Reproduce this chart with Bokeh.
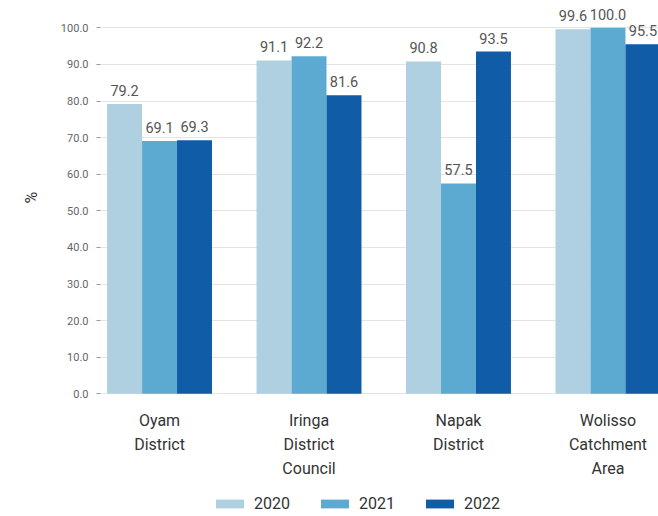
from bokeh.plotting import figure
from bokeh.models import ColumnDataSource, FixedTicker, Legend, LegendItem, NumeralTickFormatter, Range1d, Title
from bokeh.embed import file_html
from bokeh.resources import INLINE
from bokeh.core.properties import value

# Data
categories = ["Oyam\nDistrict", "Iringa\nDistrict\nCouncil", "Napak\nDistrict", "Wolisso\nCatchment\nArea"]
years = ["2020", "2021", "2022"]
values_2020 = [79.2, 91.1, 90.8, 99.6]
values_2021 = [69.1, 92.2, 57.5, 100.0]
values_2022 = [69.3, 81.6, 93.5, 95.5]
y_ticks = [0, 10, 20, 30, 40, 50, 60, 70, 80, 90, 100]

colors = ["#aed0e1", "#5caad2", "#115ca6"]
series = [values_2020, values_2021, values_2022]

# The frame runs to the bottom of the page so that category names and the
# legend can sit under the bars without being clipped.
p = figure(width=658, height=516, output_backend="svg", toolbar_location=None,
           x_range=Range1d(-0.395, 3.338), y_range=Range1d(-33.5, 107.46),
           min_border_left=100, min_border_right=0, min_border_top=0, min_border_bottom=0)
p.outline_line_color = None
p.background_fill_color = "white"
p.xaxis.visible = False

bar_w = 0.234
offsets = [-bar_w, 0.0, bar_w]
items = []
for yr, vals, col, off in zip(years, series, colors, offsets):
    src = ColumnDataSource(dict(x=[i + off for i in range(len(categories))], top=vals,
                                lab=[f"{v:.1f}" for v in vals]))
    r = p.vbar(x="x", top="top", width=bar_w, bottom=0, source=src, fill_color=col, line_color=None)
    p.text(x="x", y="top", text="lab", source=src, text_align="center", text_baseline="bottom",
           y_offset=-8, text_font=value("Roboto"), text_font_size="14.5px", text_color="#555555")
    items.append(LegendItem(label=yr, renderers=[r]))

# category names under each group
cat_src = ColumnDataSource(dict(x=list(range(len(categories))), y=[0] * len(categories), name=categories))
p.text(x="x", y="y", text="name", source=cat_src, text_align="center", text_baseline="top",
       y_offset=17, text_line_height=1.28, text_font=value("Roboto"), text_font_size="16px",
       text_color="#333333")

# y axis
p.yaxis.ticker = FixedTicker(ticks=y_ticks)
p.yaxis.formatter = NumeralTickFormatter(format="0.0")
p.yaxis.axis_line_color = None
p.yaxis.major_tick_line_color = "#999999"
p.yaxis.major_tick_out = 4
p.yaxis.major_tick_in = 0
p.yaxis.minor_tick_line_color = None
p.yaxis.major_label_text_font = "Roboto"
p.yaxis.major_label_text_font_size = "11px"
p.yaxis.major_label_text_color = "#666666"
p.yaxis.major_label_standoff = 8

p.add_layout(Title(text="%", align="left", offset=313, text_font="Roboto", text_font_style="normal",
                   text_font_size="16px", text_color="#333333", standoff=33), "left")

p.xgrid.grid_line_color = None
p.ygrid.grid_line_color = "#e4e4e4"
p.ygrid.ticker = FixedTicker(ticks=y_ticks)

legend = Legend(items=items, orientation="horizontal", location=(112, 3),
                glyph_width=35, glyph_height=11, label_standoff=7, spacing=27,
                label_text_font="Roboto", label_text_font_size="16px", label_text_color="#333333",
                border_line_color=None, background_fill_alpha=0, padding=0, margin=0)
p.add_layout(legend, "center")

open("out.html", "w").write(file_html(p, INLINE))
